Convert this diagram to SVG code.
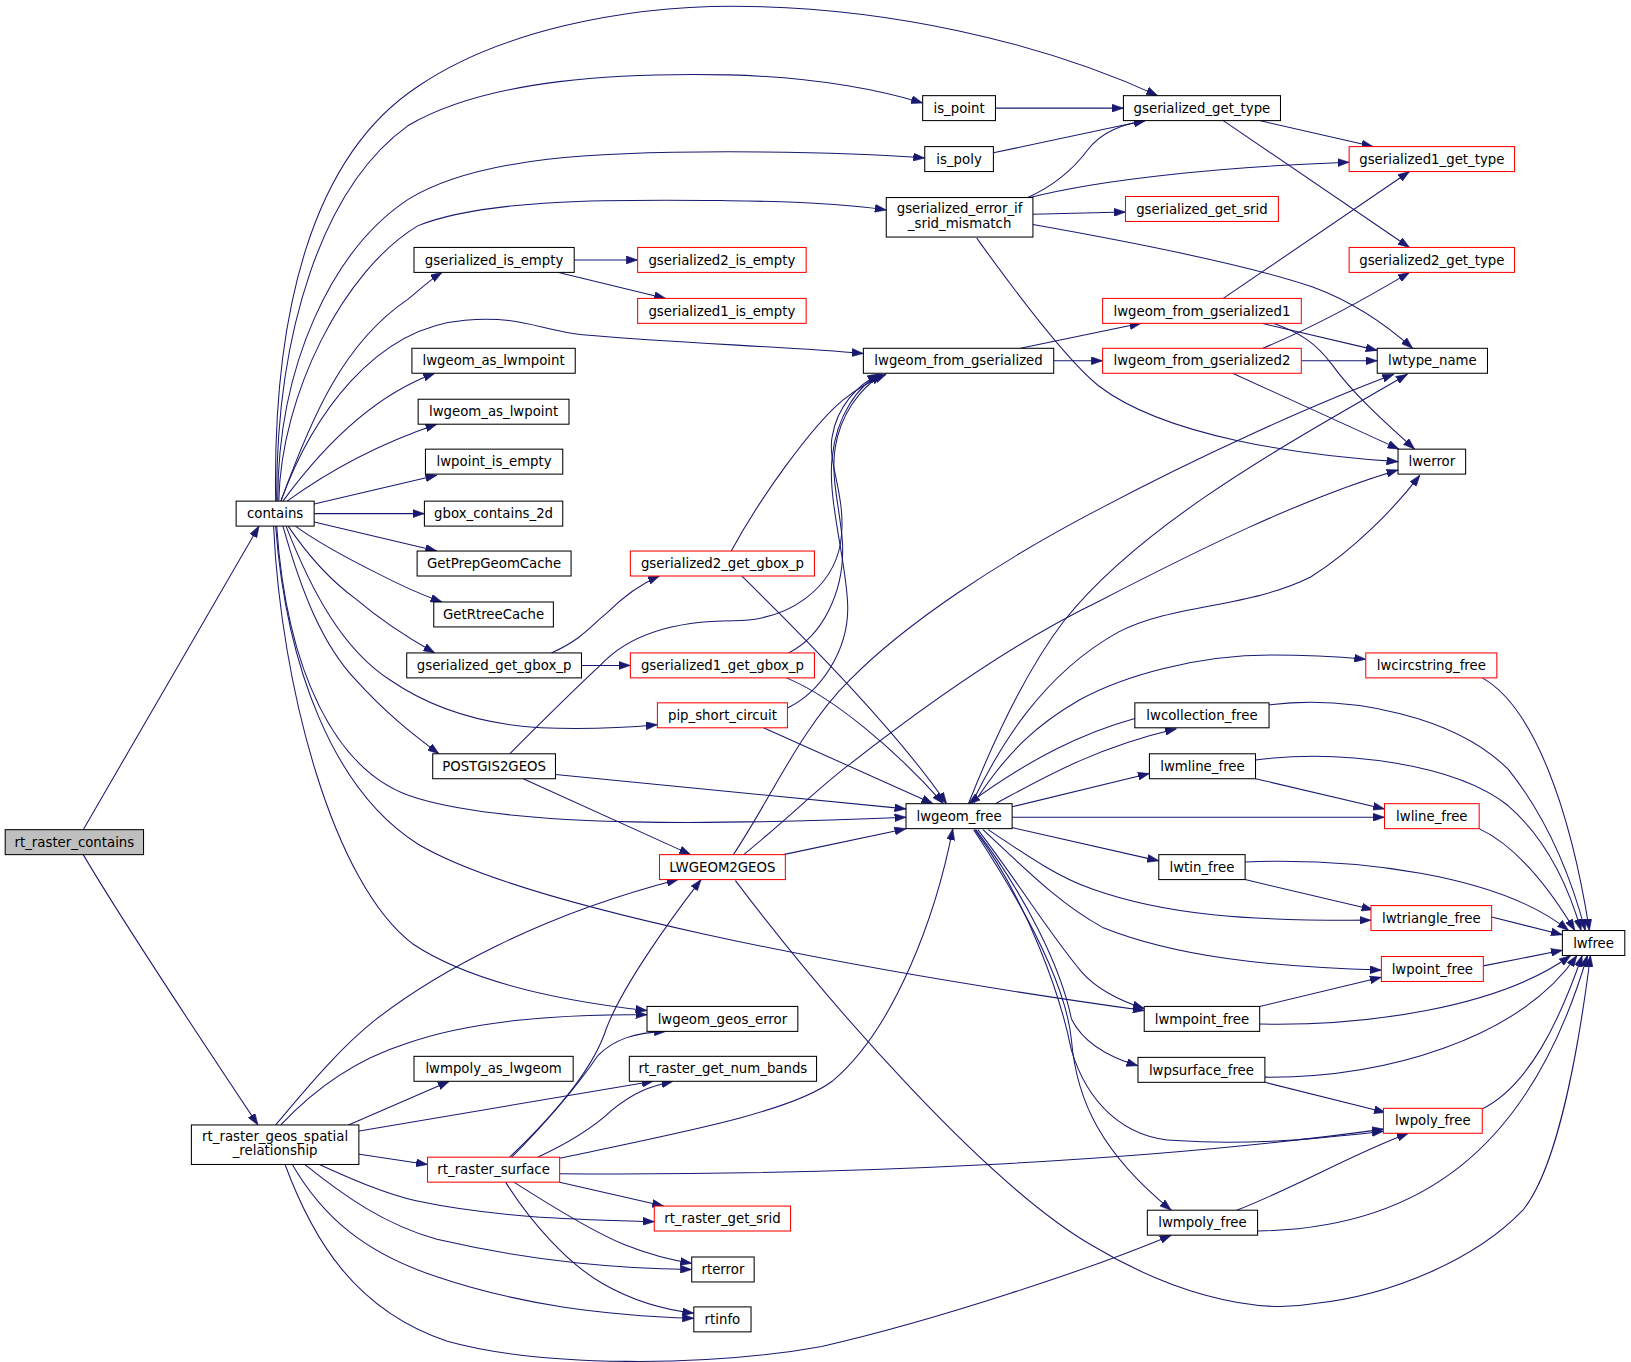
<svg xmlns="http://www.w3.org/2000/svg" width="1631" height="1362" viewBox="0 0 1631 1362">
<style>
.n rect{fill:#fff;stroke:#000;stroke-width:1}
.r rect{fill:#fff;stroke:#f00;stroke-width:1}
.g rect{fill:#bfbfbf;stroke:#000;stroke-width:1}
text{font-family:"DejaVu Sans","Liberation Sans",sans-serif;font-size:12.8px;text-anchor:middle;fill:#000}
#edges path{fill:none;stroke:#191970;stroke-width:1;marker-end:url(#a)}
</style>
<defs>
<marker id="a" markerUnits="userSpaceOnUse" markerWidth="11" markerHeight="8" refX="10" refY="3.5" orient="auto" viewBox="0 0 10 7"><path d="M0,0L10,3.5L0,7z" fill="#191970" stroke="#191970" stroke-width="0.5"/></marker>
</defs>
<rect width="1631" height="1362" fill="#fff"/>
<g transform="scale(1.0402 1.0397)">
<g id="edges">
<path d="M80,798 C120,730 200,590 249,506"/>
<path d="M80,822 C120,890 200,1010 248,1082"/>
<path d="M265,482 C262,300 300,150 402,83 C480,30 600,6 704,6 C850,6 1000,40 1113,92"/>
<path d="M266,482 C265,320 310,180 392,121 C470,75 600,70 700,72 C780,74 840,85 887,99"/>
<path d="M267,482 C267,350 320,240 392,192 C460,150 580,146 700,146 C780,146 840,148 889,152"/>
<path d="M268,482 C270,380 330,260 402,217 C470,190 600,192 700,193 C770,194 820,197 852,202"/>
<path d="M270,482 C300,400 330,330 392,288 C402,280 412,270 425,262"/>
<path d="M270,482 C300,400 360,315 447,308 C500,303 520,318 560,322 C650,330 750,333 830,340"/>
<path d="M272,482 C310,430 360,380 418,359"/>
<path d="M276,482 C320,450 370,425 420,408"/>
<path d="M301,485 L420,457"/>
<path d="M302,494 L408,494"/>
<path d="M302,502 L420,530"/>
<path d="M284,506 C310,525 340,540 362,551 C385,563 405,572 425,579"/>
<path d="M277,506 C300,540 320,560 342,576 C370,600 395,615 418,628"/>
<path d="M275,506 C300,570 330,625 375,654 C420,685 470,697 520,700 C570,702 600,700 632,697"/>
<path d="M272,506 C290,570 310,620 342,654 C370,685 395,705 422,725"/>
<path d="M266,506 C275,640 320,745 402,768 C500,797 700,793 871,786"/>
<path d="M265,506 C275,640 320,760 402,812 C500,870 800,930 1100,972"/>
<path d="M263,506 C270,660 320,850 397,908 C460,950 560,965 622,972"/>
<path d="M552,250 L613,250"/>
<path d="M537,262 L640,287"/>
<path d="M957,104 L1080,104"/>
<path d="M955,147 L1101,116"/>
<path d="M1211,116 L1320,141"/>
<path d="M1176,116 L1355,238"/>
<path d="M988,190 C1010,180 1030,165 1045,145 C1060,125 1080,120 1101,116"/>
<path d="M990,190 C1060,172 1180,160 1297,156"/>
<path d="M993,206 L1082,204"/>
<path d="M993,216 C1100,235 1200,255 1262,276 C1300,290 1330,310 1358,335"/>
<path d="M939,229 C990,300 1030,350 1056,371 C1120,420 1250,438 1344,444"/>
<path d="M981,335 L1097,311"/>
<path d="M1013,347 L1060,347"/>
<path d="M1176,287 L1355,165"/>
<path d="M1213,311 L1324,337"/>
<path d="M1224,311 C1250,320 1265,330 1280,350 C1300,378 1330,405 1360,432"/>
<path d="M1214,335 C1250,320 1300,295 1355,262"/>
<path d="M1251,347 L1324,347"/>
<path d="M1185,359 L1345,432"/>
<path d="M703,530 C730,480 780,410 810,385 C825,373 838,366 852,360"/>
<path d="M758,628 C790,612 812,570 810,523 C808,490 798,460 803,430 C808,400 825,375 848,360"/>
<path d="M757,681 C790,665 815,625 815,585 C815,545 795,480 800,440 C804,400 825,370 847,360"/>
<path d="M490,725 C520,695 550,665 577,640 C600,615 640,597 705,597 C760,597 800,565 808,523 C815,480 795,445 800,420 C805,390 825,370 845,360"/>
<path d="M530,628 C560,615 570,600 583,590 C598,575 615,562 634,554"/>
<path d="M559,640 L606,640"/>
<path d="M713,554 C760,600 860,700 910,773"/>
<path d="M756,652 C800,670 860,720 907,773"/>
<path d="M734,700 L897,773"/>
<path d="M534,745 L871,778"/>
<path d="M503,749 L664,822"/>
<path d="M753,822 L871,797"/>
<path d="M705,822 C740,770 770,700 817,654 C870,600 960,540 1058,489 C1150,440 1260,390 1340,360"/>
<path d="M715,822 C760,785 790,755 817,735 C900,670 980,615 1057,578 C1150,530 1250,480 1344,452"/>
<path d="M707,847 C800,970 950,1140 1050,1198 C1120,1240 1200,1265 1262,1254 C1340,1246 1420,1210 1464,1164 C1500,1120 1520,990 1529,919"/>
<path d="M931,773 C960,700 990,640 1023,597 C1100,500 1250,420 1353,360"/>
<path d="M934,773 C960,720 1000,650 1075,608 C1130,580 1200,585 1260,555 C1300,530 1340,490 1365,457"/>
<path d="M936,773 C970,720 1000,695 1038,673 C1080,650 1150,630 1222,630 C1260,630 1290,632 1313,634"/>
<path d="M957,773 C1000,750 1050,720 1131,701"/>
<path d="M1091,691 C1040,705 990,730 931,773"/>
<path d="M973,776 L1105,744"/>
<path d="M973,786 L1331,786"/>
<path d="M973,796 L1114,828"/>
<path d="M950,798 C990,825 1020,845 1050,855 C1120,880 1200,886 1318,885"/>
<path d="M945,798 C990,840 1020,870 1060,892 C1130,920 1220,930 1328,933"/>
<path d="M940,798 C980,850 1010,900 1040,935 C1055,952 1075,962 1100,970"/>
<path d="M938,798 C985,860 1020,930 1030,980 C1040,1000 1060,1015 1094,1025"/>
<path d="M937,798 C990,870 1020,960 1030,1010 C1045,1060 1080,1095 1131,1097 C1200,1102 1270,1095 1330,1088"/>
<path d="M936,798 C990,880 1025,950 1030,1000 C1035,1060 1060,1110 1126,1164"/>
<path d="M1207,749 L1331,778"/>
<path d="M1197,846 L1320,875"/>
<path d="M1211,968 L1328,940"/>
<path d="M1216,1041 L1332,1070"/>
<path d="M1189,1164 C1250,1140 1300,1110 1354,1090"/>
<path d="M1425,652 C1475,680 1510,780 1528,895"/>
<path d="M1220,678 C1300,668 1400,690 1450,740 C1490,790 1512,850 1524,895"/>
<path d="M1207,731 C1290,720 1400,735 1450,775 C1490,810 1510,860 1520,895"/>
<path d="M1422,797 C1460,815 1490,855 1514,895"/>
<path d="M1197,829 C1300,825 1440,840 1508,895"/>
<path d="M1434,882 L1502,899"/>
<path d="M1426,929 L1502,914"/>
<path d="M1211,985 C1310,987 1440,970 1510,919"/>
<path d="M1216,1036 C1330,1037 1460,1000 1516,919"/>
<path d="M1424,1067 C1470,1045 1500,980 1521,919"/>
<path d="M1209,1184 C1360,1182 1470,1110 1526,919"/>
<path d="M270,1082 C300,1050 340,1020 390,1004 C450,982 540,975 622,976"/>
<path d="M265,1082 C300,1040 330,1005 362,980 C420,935 520,880 652,846"/>
<path d="M335,1082 L432,1040"/>
<path d="M344,1088 L628,1040"/>
<path d="M344,1110 L411,1120"/>
<path d="M307,1120 C340,1135 370,1148 400,1155 C480,1172 560,1173 629,1175"/>
<path d="M293,1120 C330,1150 370,1178 420,1192 C520,1215 600,1220 665,1221"/>
<path d="M281,1120 C310,1170 350,1205 420,1228 C500,1255 580,1265 667,1268"/>
<path d="M274,1120 C300,1190 340,1260 430,1290 C520,1315 680,1315 790,1295 C900,1270 1050,1220 1126,1188"/>
<path d="M492,1113 C520,1085 555,1045 575,1015 C590,1000 610,993 640,992"/>
<path d="M490,1113 C530,1075 570,1030 583,989 C598,950 640,890 674,846"/>
<path d="M517,1113 C545,1100 570,1085 588,1068 C610,1050 625,1045 647,1040"/>
<path d="M538,1114 C650,1090 760,1070 800,1040 C860,990 900,880 916,797"/>
<path d="M538,1129 C800,1131 1100,1118 1330,1086"/>
<path d="M538,1137 L638,1160"/>
<path d="M494,1137 C530,1160 570,1185 600,1197 C625,1207 645,1212 665,1215"/>
<path d="M486,1137 C510,1175 545,1215 580,1235 C610,1252 640,1260 667,1263"/>
</g>
<g id="n1" class="g"><rect x="5" y="798" width="133" height="24"/><text x="71.5" y="814.5">rt_raster_contains</text></g>
<g id="n2" class="n"><rect x="227" y="482" width="75" height="24"/><text x="264.5" y="498.5">contains</text></g>
<g id="n3" class="n"><rect x="184" y="1082" width="161" height="38"/><text x="264.5" y="1097">rt_raster_geos_spatial</text><text x="264.5" y="1111">_relationship</text></g>
<g id="n4" class="n"><rect x="887" y="92" width="70" height="24"/><text x="922" y="108.5">is_point</text></g>
<g id="n5" class="n"><rect x="1080" y="92" width="151" height="24"/><text x="1155.5" y="108.5">gserialized_get_type</text></g>
<g id="n6" class="n"><rect x="889" y="141" width="66" height="24"/><text x="922" y="157.5">is_poly</text></g>
<g id="n7" class="n"><rect x="852" y="190" width="141" height="38"/><text x="922.5" y="205">gserialized_error_if</text><text x="922.5" y="219">_srid_mismatch</text></g>
<g id="n8" class="r"><rect x="1297" y="141" width="159" height="24"/><text x="1376.5" y="157.5">gserialized1_get_type</text></g>
<g id="n9" class="r"><rect x="1082" y="189" width="147" height="24"/><text x="1155.5" y="205.5">gserialized_get_srid</text></g>
<g id="n10" class="r"><rect x="1297" y="238" width="159" height="24"/><text x="1376.5" y="254.5">gserialized2_get_type</text></g>
<g id="n11" class="n"><rect x="398" y="238" width="154" height="24"/><text x="475" y="254.5">gserialized_is_empty</text></g>
<g id="n12" class="r"><rect x="613" y="238" width="162" height="24"/><text x="694" y="254.5">gserialized2_is_empty</text></g>
<g id="n13" class="r"><rect x="613" y="287" width="162" height="24"/><text x="694" y="303.5">gserialized1_is_empty</text></g>
<g id="n14" class="r"><rect x="1060" y="287" width="191" height="24"/><text x="1155.5" y="303.5">lwgeom_from_gserialized1</text></g>
<g id="n15" class="n"><rect x="830" y="335" width="183" height="24"/><text x="921.5" y="351.5">lwgeom_from_gserialized</text></g>
<g id="n16" class="r"><rect x="1060" y="335" width="191" height="24"/><text x="1155.5" y="351.5">lwgeom_from_gserialized2</text></g>
<g id="n17" class="n"><rect x="1324" y="335" width="106" height="24"/><text x="1377" y="351.5">lwtype_name</text></g>
<g id="n18" class="n"><rect x="396" y="335" width="157" height="24"/><text x="474.5" y="351.5">lwgeom_as_lwmpoint</text></g>
<g id="n19" class="n"><rect x="402" y="384" width="145" height="24"/><text x="474.5" y="400.5">lwgeom_as_lwpoint</text></g>
<g id="n20" class="n"><rect x="409" y="432" width="132" height="24"/><text x="475" y="448.5">lwpoint_is_empty</text></g>
<g id="n21" class="n"><rect x="1344" y="432" width="65" height="24"/><text x="1376.5" y="448.5">lwerror</text></g>
<g id="n22" class="n"><rect x="408" y="482" width="133" height="24"/><text x="474.5" y="498.5">gbox_contains_2d</text></g>
<g id="n23" class="n"><rect x="401" y="530" width="148" height="24"/><text x="475" y="546.5">GetPrepGeomCache</text></g>
<g id="n24" class="n"><rect x="417" y="579" width="115" height="24"/><text x="474.5" y="595.5">GetRtreeCache</text></g>
<g id="n25" class="r"><rect x="606" y="530" width="177" height="24"/><text x="694.5" y="546.5">gserialized2_get_gbox_p</text></g>
<g id="n26" class="n"><rect x="391" y="628" width="168" height="24"/><text x="475" y="644.5">gserialized_get_gbox_p</text></g>
<g id="n27" class="r"><rect x="606" y="628" width="177" height="24"/><text x="694.5" y="644.5">gserialized1_get_gbox_p</text></g>
<g id="n28" class="r"><rect x="1313" y="628" width="126" height="24"/><text x="1376" y="644.5">lwcircstring_free</text></g>
<g id="n29" class="r"><rect x="632" y="676" width="125" height="24"/><text x="694.5" y="692.5">pip_short_circuit</text></g>
<g id="n30" class="n"><rect x="1091" y="676" width="129" height="24"/><text x="1155.5" y="692.5">lwcollection_free</text></g>
<g id="n31" class="n"><rect x="416" y="725" width="118" height="24"/><text x="475" y="741.5">POSTGIS2GEOS</text></g>
<g id="n32" class="n"><rect x="1105" y="725" width="102" height="24"/><text x="1156" y="741.5">lwmline_free</text></g>
<g id="n33" class="n"><rect x="871" y="773" width="102" height="24"/><text x="922" y="789.5">lwgeom_free</text></g>
<g id="n34" class="r"><rect x="1331" y="773" width="91" height="24"/><text x="1376.5" y="789.5">lwline_free</text></g>
<g id="n35" class="r"><rect x="634" y="822" width="121" height="24"/><text x="694.5" y="838.5">LWGEOM2GEOS</text></g>
<g id="n36" class="n"><rect x="1114" y="822" width="83" height="24"/><text x="1155.5" y="838.5">lwtin_free</text></g>
<g id="n37" class="r"><rect x="1318" y="871" width="116" height="24"/><text x="1376" y="887.5">lwtriangle_free</text></g>
<g id="n38" class="n"><rect x="1502" y="895" width="60" height="24"/><text x="1532" y="911.5">lwfree</text></g>
<g id="n39" class="r"><rect x="1328" y="920" width="98" height="24"/><text x="1377" y="936.5">lwpoint_free</text></g>
<g id="n40" class="n"><rect x="622" y="968" width="145" height="24"/><text x="694.5" y="984.5">lwgeom_geos_error</text></g>
<g id="n41" class="n"><rect x="1100" y="968" width="111" height="24"/><text x="1155.5" y="984.5">lwmpoint_free</text></g>
<g id="n42" class="n"><rect x="398" y="1016" width="153" height="24"/><text x="474.5" y="1032.5">lwmpoly_as_lwgeom</text></g>
<g id="n43" class="n"><rect x="605" y="1016" width="180" height="24"/><text x="695" y="1032.5">rt_raster_get_num_bands</text></g>
<g id="n44" class="n"><rect x="1094" y="1017" width="122" height="24"/><text x="1155" y="1033.5">lwpsurface_free</text></g>
<g id="n45" class="r"><rect x="411" y="1113" width="127" height="24"/><text x="474.5" y="1129.5">rt_raster_surface</text></g>
<g id="n46" class="r"><rect x="1330" y="1066" width="95" height="24"/><text x="1377.5" y="1082.5">lwpoly_free</text></g>
<g id="n47" class="r"><rect x="629" y="1160" width="131" height="24"/><text x="694.5" y="1176.5">rt_raster_get_srid</text></g>
<g id="n48" class="n"><rect x="1103" y="1164" width="106" height="24"/><text x="1156" y="1180.5">lwmpoly_free</text></g>
<g id="n49" class="n"><rect x="665" y="1209" width="60" height="24"/><text x="695" y="1225.5">rterror</text></g>
<g id="n50" class="n"><rect x="667" y="1257" width="55" height="24"/><text x="694.5" y="1273.5">rtinfo</text></g>
</g>
</svg>
